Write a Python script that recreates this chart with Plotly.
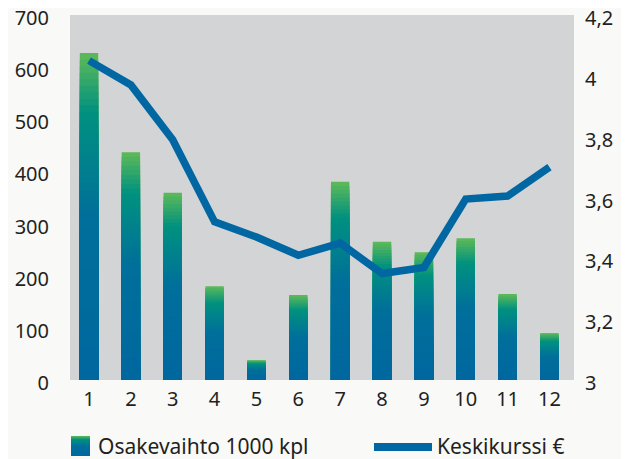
import plotly.graph_objects as go
from plotly.colors import sample_colorscale

months = list(range(1, 13))
month_labels = [str(m) for m in months]
volume = [627, 437, 359, 180, 38, 163, 380, 265, 245, 272, 165, 90]  # Osakevaihto 1000 kpl
price = [4.05, 3.97, 3.79, 3.52, 3.47, 3.41, 3.45, 3.35, 3.37, 3.595, 3.605, 3.70]  # Keskikurssi €

left_ticks = [0, 100, 200, 300, 400, 500, 600, 700]
right_ticks = [3, 3.2, 3.4, 3.6, 3.8, 4, 4.2]

# gradient: position 0 = bottom of bar, 1 = top
grad = [[0.0, "#00679f"], [0.5, "#006f9b"], [0.82, "#00917f"], [1.0, "#5fba58"]]
N = 50
fonts = "Noto Sans, DejaVu Sans, sans-serif"
txt = "#231f20"

# page body has an 8px margin: figure is offset by 8px right/down
OFF = 8
W, H = 629 - OFF, 459 - OFF

fig = go.Figure()
# overlaid bars: tallest (top colour) first, shorter ones drawn over it
for k in range(N):
    frac = 1 - k / N
    col = sample_colorscale(grad, [frac - 0.5 / N])[0]
    fig.add_trace(go.Bar(
        x=months, y=[v * frac for v in volume],
        marker=dict(color=col, line=dict(width=0)),
        width=0.44, showlegend=False, hoverinfo="skip", yaxis="y",
    ))

fig.add_trace(go.Scatter(
    x=months, y=price, mode="lines", yaxis="y2",
    line=dict(color="#0067a2", width=7.5), showlegend=False,
))

# manual legend (pixel positions of the reference converted to paper coords)
px_l, px_r, px_t, px_b = 70, 574, 15, 380
def X(p):
    return (p - px_l) / (px_r - px_l)
def Y(p):
    return (px_b - p) / (px_b - px_t)

shapes = []
sq_top, sq_bot = 436, 456
M = 20
for k in range(M):
    frac = 1 - k / M
    col = sample_colorscale(grad, [frac - 0.5 / M])[0]
    shapes.append(dict(type="rect", xref="paper", yref="paper",
                       x0=X(71), x1=X(90), y0=Y(sq_bot), y1=Y(sq_bot - (sq_bot - sq_top) * frac),
                       fillcolor=col, line=dict(width=0), layer="above"))
shapes.append(dict(type="line", xref="paper", yref="paper",
                   x0=X(374), x1=X(432), y0=Y(447), y1=Y(447),
                   line=dict(color="#0067a2", width=8)))

annotations = [
    dict(text="Osakevaihto 1000 kpl", xref="paper", yref="paper", x=X(96), y=Y(446),
         xanchor="left", yanchor="middle", showarrow=False, font=dict(size=21, color=txt)),
    dict(text="Keskikurssi €", xref="paper", yref="paper", x=X(435), y=Y(446),
         xanchor="left", yanchor="middle", showarrow=False, font=dict(size=21, color=txt)),
]

fig.update_layout(
    width=W, height=H,
    margin=dict(l=70 - OFF, r=55, t=15 - OFF, b=79, autoexpand=False),
    paper_bgcolor="#f9f9f8", plot_bgcolor="#d3d4d6",
    barmode="overlay", bargap=0.56,
    separators=", ",
    font=dict(family=fonts, size=20, color=txt),
    showlegend=False,
    xaxis=dict(range=[0.546, 12.586], tickmode="array", tickvals=months, ticktext=month_labels,
               showgrid=False, zeroline=False, showline=False, ticks="", automargin=False,
               ticklabelstandoff=5, ticklabeloverflow="allow", tickfont=dict(size=20, color=txt)),
    yaxis=dict(range=[0, 700], tickmode="array", tickvals=left_ticks, automargin=False,
               showgrid=False, zeroline=False, showline=False, ticks="",
               ticklabelstandoff=20, ticklabelshift=3, ticklabeloverflow="allow",
               tickfont=dict(size=20, color=txt)),
    yaxis2=dict(range=[3, 4.2], tickmode="array", tickvals=right_ticks, overlaying="y", side="right",
                showgrid=False, zeroline=False, showline=False, ticks="", automargin=False,
                ticklabelstandoff=10, ticklabelshift=3, ticklabeloverflow="allow",
                tickfont=dict(size=20, color=txt)),
    shapes=shapes, annotations=annotations,
)

fig.write_html("out.html")
